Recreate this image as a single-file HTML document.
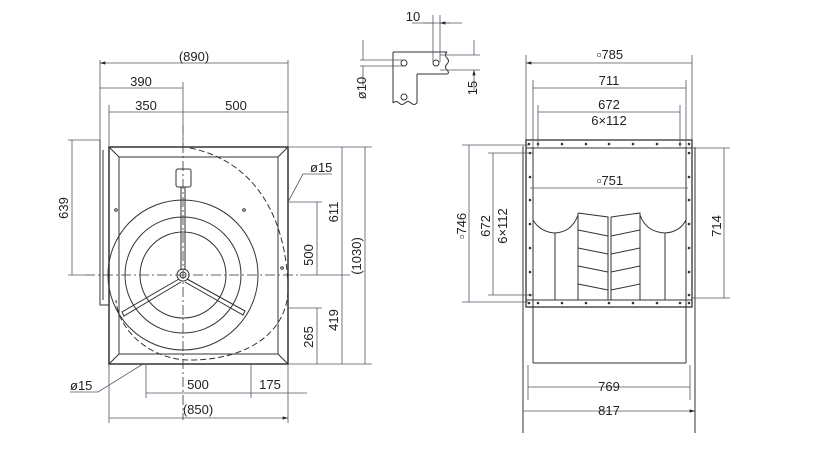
<!DOCTYPE html>
<html><head><style>body{margin:0;background:#fff}svg{display:block}text{font-family:"Liberation Sans",sans-serif;font-size:13px;fill:#222}</style></head><body>
<svg width="830" height="460" viewBox="0 0 830 460" xmlns="http://www.w3.org/2000/svg">
<defs>
<marker id="a" viewBox="0 0 10 6" refX="10" refY="3" markerWidth="8" markerHeight="4" orient="auto-start-reverse"><path d="M0,0L10,3L0,6z" fill="#222"/></marker>
</defs>
<g stroke="#333" stroke-width="1" fill="none">
<!-- LEFT VIEW -->
<rect x="109" y="147" width="179" height="217" stroke-width="1.5"/>
<rect x="119" y="157" width="159" height="197"/>
<path d="M109,147L119,157M288,147L278,157M109,364L119,354M288,364L278,354"/>
<path d="M100,140V305H109M103,150V300"/>
<path d="M190,148C250,160 285,210 288,285C290,330 250,360 190,360C150,360 118,330 116,300" stroke-dasharray="6,3"/>
<circle cx="183" cy="275" r="75"/><circle cx="183" cy="275" r="58"/><circle cx="183" cy="275" r="43"/>
<circle cx="183" cy="275" r="6"/><circle cx="183" cy="275" r="3"/>
<rect x="176" y="169" width="15" height="18" rx="2"/>
<path d="M181,187V270M185,187V270M179,279L122,312L124,316L181,282M187,279L245,311L243,315L185,282"/>
<path d="M183,125V420M85,275H300" stroke-dasharray="10,3,2,3" stroke-width="0.8"/>
<circle cx="116" cy="210" r="1.3"/><circle cx="244" cy="210" r="1.3"/><circle cx="282" cy="268" r="1.3"/>
<!-- dims left -->
<g stroke="#556" stroke-width="0.8">
<path d="M100,60V140M288,60V147M109,105V147M183,82V147M68,140H100M68,275H85M288,147H372M288,202H322M288,308H322M288,364H372M300,275H350M146,364V398M251,364V398M109,364V423M288,364V423M288,393H307"/>
<path d="M100,63H288M100,88H183M109,112H183M183,112H288M72,140V275M342,147V275M342,275V364M365,147V364M317,202V275M317,308V364M146,393H251M251,393H288M109,418H288" marker-start="url(#a)" marker-end="url(#a)"/>
<path d="M288,202L303,174H332M143,364L98,392H70"/>
</g>
<!-- BRACKET -->
<path d="M393,52H447M393,52V103M417,74V103M417,74H447M393,103q3,-3 6,0t6,0t6,0t6,0M447,52q-3,3 0,6t0,6t0,6t0,4"/>
<circle cx="404" cy="63" r="3"/><circle cx="436" cy="63" r="3"/><circle cx="404" cy="97" r="3"/>
<g stroke="#556" stroke-width="0.8">
<path d="M433,15V62M440,15V62M412,23H462M360,60H404M360,66H404M440,55H480M440,70H480"/>
<path d="M423,23H433M450,23H440" marker-end="url(#a)"/>
<path d="M363,40V60M363,86V66M474,40V55M474,90V70" marker-end="url(#a)"/>
</g>
<!-- RIGHT VIEW -->
<rect x="526" y="140" width="166" height="167" stroke-width="1.3"/>
<path d="M526,148H692M526,300H692M533,147V363M686,147V363M533,363H686M523,146V433M695,147V433"/>
<path d="M533,220Q540,232 555,233Q572,232 578,215M640,215Q646,232 665,233Q680,232 686,220M555,233V300M665,233V300"/>
<path d="M578,213L608,217V300M578,213V300M611,217L640,213V300M611,217V300"/>
<path d="M578,230L608,236M578,248L608,254M578,266L608,272M578,284L608,290M611,236L640,230M611,254L640,248M611,272L640,266M611,290L640,284"/>
<g fill="#333" stroke="none">
<circle cx="538" cy="144" r="1.3"/><circle cx="562" cy="144" r="1.3"/><circle cx="586" cy="144" r="1.3"/><circle cx="609" cy="144" r="1.3"/><circle cx="633" cy="144" r="1.3"/><circle cx="657" cy="144" r="1.3"/><circle cx="680" cy="144" r="1.3"/><circle cx="689" cy="144" r="1.3"/><circle cx="529" cy="144" r="1.3"/>
<circle cx="538" cy="303" r="1.3"/><circle cx="562" cy="303" r="1.3"/><circle cx="586" cy="303" r="1.3"/><circle cx="609" cy="303" r="1.3"/><circle cx="633" cy="303" r="1.3"/><circle cx="657" cy="303" r="1.3"/><circle cx="680" cy="303" r="1.3"/><circle cx="689" cy="303" r="1.3"/><circle cx="529" cy="303" r="1.3"/>
<circle cx="530" cy="153" r="1.3"/><circle cx="530" cy="177" r="1.3"/><circle cx="530" cy="200" r="1.3"/><circle cx="530" cy="224" r="1.3"/><circle cx="530" cy="248" r="1.3"/><circle cx="530" cy="272" r="1.3"/><circle cx="530" cy="295" r="1.3"/>
<circle cx="689" cy="153" r="1.3"/><circle cx="689" cy="177" r="1.3"/><circle cx="689" cy="200" r="1.3"/><circle cx="689" cy="224" r="1.3"/><circle cx="689" cy="248" r="1.3"/><circle cx="689" cy="272" r="1.3"/><circle cx="689" cy="295" r="1.3"/>
</g>
<g stroke="#556" stroke-width="0.8">
<path d="M526,55V140M692,55V140M533,80V147M686,80V147M538,105V147M680,105V147M462,145H528M462,302H528M488,153H533M488,295H533M692,148H730M692,298H730M528,365V400M690,365V400"/>
<path d="M526,63H692M533,88H686M538,112H680M530,188H688M469,145V302M493,153V295M724,148V298M528,387H690M523,411H695" marker-start="url(#a)" marker-end="url(#a)"/>
</g>
</g>
<text x="194" y="61" text-anchor="middle">(890)</text>
<text x="141" y="86" text-anchor="middle">390</text>
<text x="146" y="110" text-anchor="middle">350</text>
<text x="236" y="110" text-anchor="middle">500</text>
<text x="310" y="172">ø15</text>
<text x="70" y="390">ø15</text>
<text x="198" y="389" text-anchor="middle">500</text>
<text x="270" y="389" text-anchor="middle">175</text>
<text x="198" y="414" text-anchor="middle">(850)</text>
<text transform="translate(68,208) rotate(-90)" text-anchor="middle">639</text>
<text transform="translate(338,212) rotate(-90)" text-anchor="middle">611</text>
<text transform="translate(338,320) rotate(-90)" text-anchor="middle">419</text>
<text transform="translate(361,256) rotate(-90)" text-anchor="middle">(1030)</text>
<text transform="translate(313,255) rotate(-90)" text-anchor="middle">500</text>
<text transform="translate(313,337) rotate(-90)" text-anchor="middle">265</text>
<text x="413" y="21" text-anchor="middle">10</text>
<text transform="translate(366,88) rotate(-90)" text-anchor="middle">ø10</text>
<text transform="translate(477,88) rotate(-90)" text-anchor="middle">15</text>
<text x="610" y="59" text-anchor="middle">▫785</text>
<text x="609" y="85" text-anchor="middle">711</text>
<text x="609" y="109" text-anchor="middle">672</text>
<text x="609" y="125" text-anchor="middle">6×112</text>
<text x="610" y="185" text-anchor="middle">▫751</text>
<text x="609" y="391" text-anchor="middle">769</text>
<text x="609" y="415" text-anchor="middle">817</text>
<text transform="translate(466,226) rotate(-90)" text-anchor="middle">▫746</text>
<text transform="translate(490,226) rotate(-90)" text-anchor="middle">672</text>
<text transform="translate(507,226) rotate(-90)" text-anchor="middle">6×112</text>
<text transform="translate(721,226) rotate(-90)" text-anchor="middle">714</text>
</svg>
</body></html>
